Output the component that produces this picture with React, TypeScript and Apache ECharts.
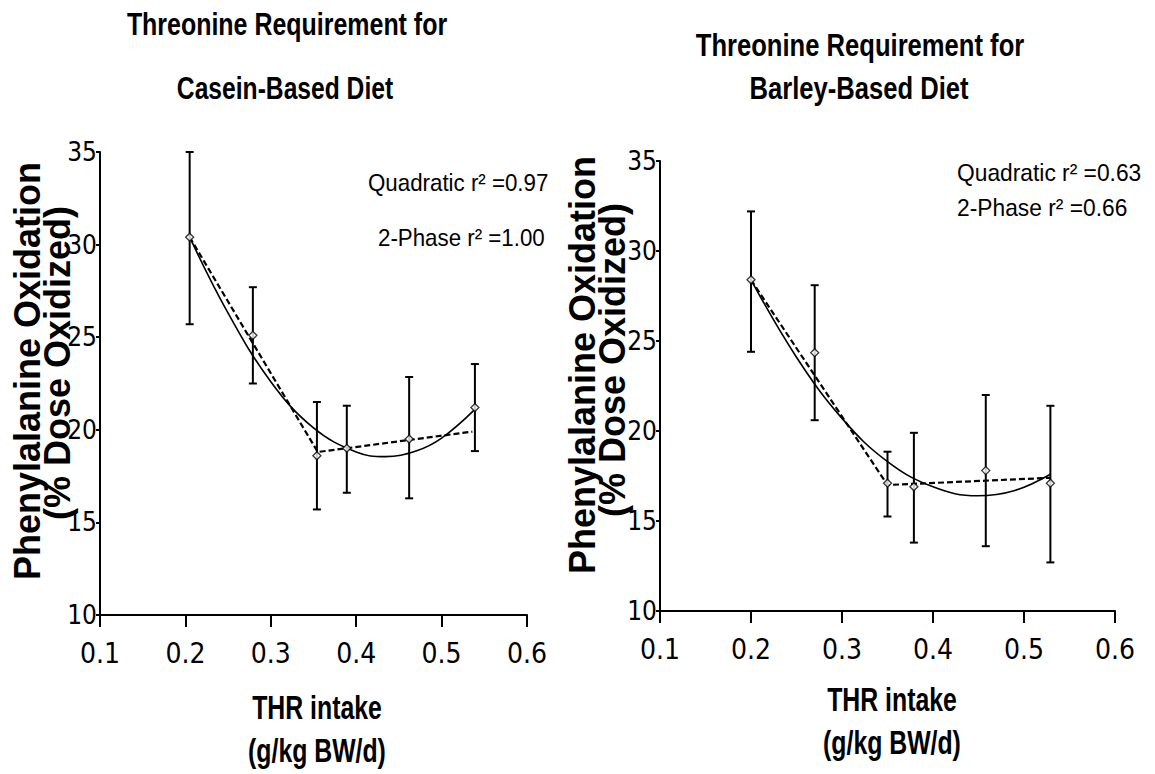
import React, { useEffect, useRef } from "react";
import * as echarts from "echarts";

// ---- Data ----
const xTicks = [0.1, 0.2, 0.3, 0.4, 0.5, 0.6];

// Casein-based diet
const caseinX = [0.205, 0.279, 0.354, 0.389, 0.462, 0.539];
const caseinMean = [30.4, 25.1, 18.6, 19.0, 19.5, 21.2];
const caseinLow = [25.7, 22.5, 15.7, 16.6, 16.3, 18.85];
const caseinHigh = [35.0, 27.7, 21.5, 21.3, 22.85, 23.55];
const caseinQuadX = [0.205, 0.25, 0.3, 0.35, 0.4, 0.434, 0.47, 0.5, 0.539];
const caseinQuadY = [30.4, 26.3, 22.6, 20.1, 18.8, 18.55, 18.85, 19.55, 21.1];
const caseinPhaseX = [0.205, 0.355, 0.536];
const caseinPhaseY = [30.4, 18.8, 19.9];

// Barley-based diet
const barleyX = [0.2, 0.27, 0.35, 0.379, 0.458, 0.529];
const barleyMean = [28.4, 24.35, 17.1, 16.9, 17.8, 17.1];
const barleyLow = [24.4, 20.6, 15.25, 13.8, 13.6, 12.7];
const barleyHigh = [32.2, 28.1, 18.85, 19.9, 22.0, 21.4];
const barleyQuadX = [0.2, 0.25, 0.3, 0.35, 0.4, 0.449, 0.49, 0.529];
const barleyQuadY = [28.4, 24.1, 20.7, 18.3, 16.9, 16.4, 16.7, 17.6];
const barleyPhaseX = [0.2, 0.35, 0.529];
const barleyPhaseY = [28.4, 17.0, 17.4];

const titlesLeft = ["Threonine Requirement for", "Casein-Based Diet"];
const titlesRight = ["Threonine Requirement for", "Barley-Based Diet"];
const yTitle = ["Phenylalanine Oxidation", "(% Dose Oxidized)"];
const xTitle = ["THR intake", "(g/kg BW/d)"];
const statsLeft = ["Quadratic r\u00B2 =0.97", "2-Phase r\u00B2 =1.00"];
const statsRight = ["Quadratic r\u00B2 =0.63", "2-Phase r\u00B2 =0.66"];

const zip = (a: number[], b: number[]) => a.map((v, i) => [v, b[i]]);
const zip3 = (a: number[], b: number[], c: number[]) => a.map((v, i) => [v, b[i], c[i]]);

const COND = "'DejaVu Sans Condensed', 'Liberation Sans', Arial, sans-serif";
const SANS = "'Liberation Sans', Arial, sans-serif";

function errRender(params: any, api: any) {
  const x = api.value(0);
  const p1 = api.coord([x, api.value(1)]);
  const p2 = api.coord([x, api.value(2)]);
  const w = 4;
  const st = { stroke: "#000", lineWidth: 2 };
  return {
    type: "group",
    children: [
      { type: "line", shape: { x1: p1[0], y1: p1[1], x2: p2[0], y2: p2[1] }, style: st },
      { type: "line", shape: { x1: p1[0] - w, y1: p1[1], x2: p1[0] + w, y2: p1[1] }, style: st },
      { type: "line", shape: { x1: p2[0] - w, y1: p2[1], x2: p2[0] + w, y2: p2[1] }, style: st },
    ],
  };
}

function txt(text: string, x: number, y: number, opts: any = {}) {
  return {
    type: "text",
    x,
    y,
    rotation: opts.rotation || 0,
    scaleX: opts.scaleX || 1,
    style: {
      text,
      fill: "#000",
      fontSize: opts.fontSize || 26,
      fontFamily: opts.fontFamily || SANS,
      fontWeight: opts.fontWeight || "normal",
      align: opts.align || "center",
      verticalAlign: "middle",
    },
  };
}

export default function App() {
  const ref = useRef<HTMLDivElement>(null);
  useEffect(() => {
    if (!ref.current) return;
    const chart = echarts.init(ref.current, null, { renderer: "svg" });

    const axisLine = { show: true, lineStyle: { color: "#000", width: 2 } };
    const xAxisBase = {
      type: "value",
      min: xTicks[0],
      max: xTicks[xTicks.length - 1],
      interval: 0.1,
      axisLine,
      axisTick: { show: true, length: 12, inside: false, lineStyle: { color: "#000", width: 2 } },
      axisLabel: {
        color: "#000",
        fontSize: 28,
        fontFamily: COND,
        margin: 24,
        formatter: (v: number) => v.toFixed(1),
      },
      splitLine: { show: false },
    };
    const yAxisBase = {
      type: "value",
      min: 10,
      max: 35,
      interval: 5,
      axisLine,
      axisTick: { show: true, length: 4, lineStyle: { color: "#000", width: 2 } },
      axisLabel: { color: "#000", fontSize: 26, fontFamily: COND, margin: 3 },
      splitLine: { show: false },
    };

    const mkSeries = (
      idx: number,
      xs: number[],
      mean: number[],
      lo: number[],
      hi: number[],
      qx: number[],
      qy: number[],
      px: number[],
      py: number[]
    ) => [
      {
        type: "custom",
        xAxisIndex: idx,
        yAxisIndex: idx,
        renderItem: errRender,
        encode: { x: 0, y: [1, 2] },
        data: zip3(xs, lo, hi),
        z: 2,
      },
      {
        type: "line",
        xAxisIndex: idx,
        yAxisIndex: idx,
        data: zip(qx, qy),
        smooth: 0.4,
        showSymbol: false,
        lineStyle: { color: "#000", width: 1.6, type: "solid" },
        z: 3,
      },
      {
        type: "line",
        xAxisIndex: idx,
        yAxisIndex: idx,
        data: zip(px, py),
        showSymbol: false,
        lineStyle: { color: "#000", width: 2.2, type: [6, 3] },
        z: 3,
      },
      {
        type: "scatter",
        xAxisIndex: idx,
        yAxisIndex: idx,
        data: zip(xs, mean),
        symbol: "diamond",
        symbolSize: 8,
        itemStyle: { color: "#fff", borderColor: "#000", borderWidth: 1.3 },
        z: 4,
      },
    ];

    const tb = { fontSize: 32, fontWeight: "bold" };
    const xtOpts = { fontSize: 34, fontWeight: "bold", scaleX: 0.73 };
    const ytOpts = { fontSize: 36, fontWeight: "bold", rotation: Math.PI / 2 };
    const stOpts = { fontSize: 24, align: "left" };

    chart.setOption({
      animation: false,
      backgroundColor: "#fff",
      grid: [
        { left: 100, top: 152, width: 427, height: 463 },
        { left: 660, top: 161, width: 455, height: 450 },
      ],
      xAxis: [
        { ...xAxisBase, gridIndex: 0 },
        { ...xAxisBase, gridIndex: 1 },
      ],
      yAxis: [
        { ...yAxisBase, gridIndex: 0 },
        { ...yAxisBase, gridIndex: 1 },
      ],
      series: [
        ...mkSeries(0, caseinX, caseinMean, caseinLow, caseinHigh, caseinQuadX, caseinQuadY, caseinPhaseX, caseinPhaseY),
        ...mkSeries(1, barleyX, barleyMean, barleyLow, barleyHigh, barleyQuadX, barleyQuadY, barleyPhaseX, barleyPhaseY),
      ],
      graphic: [
        txt(titlesLeft[0], 287, 24, { ...tb, scaleX: 0.78 }),
        txt(titlesLeft[1], 285, 88, { ...tb, scaleX: 0.77 }),
        txt(titlesRight[0], 860, 45, { ...tb, scaleX: 0.8 }),
        txt(titlesRight[1], 859, 88, { ...tb, scaleX: 0.8 }),
        txt(yTitle[0], 27.5, 371, ytOpts),
        txt(yTitle[1], 57, 363, ytOpts),
        txt(yTitle[0], 582, 365, ytOpts),
        txt(yTitle[1], 612, 360, ytOpts),
        txt(xTitle[0], 317, 707, xtOpts),
        txt(xTitle[1], 317, 750, xtOpts),
        txt(xTitle[0], 892, 699, xtOpts),
        txt(xTitle[1], 892, 742, xtOpts),
        txt(statsLeft[0], 368, 183, { ...stOpts, scaleX: 0.93 }),
        txt(statsLeft[1], 378, 238, { ...stOpts, scaleX: 0.93 }),
        txt(statsRight[0], 957, 173, { ...stOpts, scaleX: 0.95 }),
        txt(statsRight[1], 957, 208, { ...stOpts, scaleX: 0.95 }),
      ],
    });
    return () => chart.dispose();
  }, []);
  return (
    <div
      ref={ref}
      style={{ position: "absolute", left: 0, top: 0, width: 1155, height: 774, background: "#fff" }}
    />
  );
}
